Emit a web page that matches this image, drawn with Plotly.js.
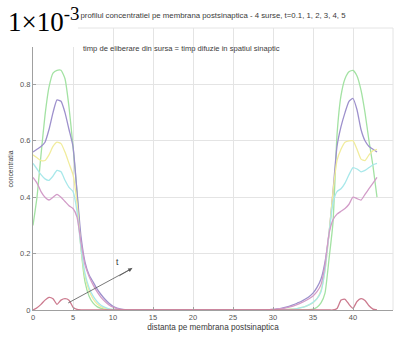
<!DOCTYPE html>
<html>
<head>
<meta charset="utf-8">
<script src="https://cdn.plot.ly/plotly-3.0.1.min.js"></script>
<style>html,body{margin:0;padding:0;background:#fff;}#chart{width:397px;height:338px;}</style>
</head>
<body>
<div id="chart"></div>
<script>
// distance along the postsynaptic membrane
const distanta = [0,0.5,1,1.5,2,2.5,3,3.5,4,4.5,5,5.5,6,6.5,7,7.5,8,8.5,9,9.5,10,10.5,11,11.5,12,
  13,14,15,16,17,18,19,20,21,22,23,24,25,26,27,28,29,
  30,30.5,31,31.5,32,32.5,33,33.5,34,34.5,35,35.5,36,36.5,37,37.5,38,38.5,39,39.5,40,40.5,41,41.5,42,42.5,43];

// concentration profiles (scaled by 1e-3)
const conc_t01 = [0,0.008,0.02,0.035,0.045,0.04,0.02,0.035,0.04,0.035,0.01,0.002,0,0,0,0,0,0,0,0,0,0,0,0,0,
  0,0,0,0,0,0,0,0,0,0,0,0,0,0,0,0,0,
  0,0,0,0,0,0,0,0,0,0,0,0,0,0,0,0,0.005,0.035,0.038,0.02,0.006,0.03,0.04,0.034,0.015,0.003,0];
const conc_t1 = [0.30,0.40,0.55,0.69,0.79,0.84,0.85,0.85,0.82,0.72,0.58,0.42,0.22,0.10,0.05,0.025,0.012,0.006,0.003,0.001,0,0,0,0,0,
  0,0,0,0,0,0,0,0,0,0,0,0,0,0,0,0,0,
  0,0,0,0,0,0,0,0,0,0.001,0.003,0.01,0.025,0.06,0.18,0.31,0.62,0.76,0.82,0.845,0.85,0.83,0.78,0.70,0.60,0.51,0.40];
const conc_t2 = [0.56,0.57,0.58,0.595,0.64,0.70,0.745,0.74,0.70,0.64,0.58,0.42,0.26,0.17,0.125,0.10,0.075,0.055,0.038,0.024,0.013,0.007,0.003,0.001,0,
  0,0,0,0,0,0,0,0,0,0,0,0,0,0,0,0,0,
  0.002,0.004,0.006,0.009,0.013,0.018,0.024,0.03,0.038,0.047,0.06,0.08,0.11,0.17,0.27,0.42,0.58,0.65,0.70,0.74,0.75,0.71,0.64,0.60,0.58,0.57,0.56];
const conc_t3 = [0.55,0.54,0.53,0.53,0.55,0.58,0.595,0.59,0.56,0.52,0.48,0.38,0.22,0.12,0.07,0.04,0.022,0.012,0.006,0.003,0.001,0,0,0,0,
  0,0,0,0,0,0,0,0,0,0,0,0,0,0,0,0,0,
  0,0,0.001,0.002,0.003,0.004,0.005,0.008,0.012,0.018,0.026,0.04,0.07,0.14,0.27,0.42,0.53,0.57,0.595,0.60,0.60,0.57,0.535,0.53,0.55,0.565,0.57];
const conc_t4 = [0.52,0.50,0.48,0.465,0.46,0.475,0.495,0.49,0.46,0.435,0.42,0.35,0.22,0.13,0.08,0.05,0.03,0.017,0.009,0.004,0.002,0.001,0,0,0,
  0,0,0,0,0,0,0,0,0,0,0,0,0,0,0,0,0,
  0,0,0.001,0.001,0.002,0.003,0.005,0.008,0.012,0.018,0.027,0.04,0.065,0.14,0.27,0.38,0.42,0.43,0.45,0.48,0.505,0.50,0.49,0.495,0.505,0.515,0.52];
const conc_t5 = [0.47,0.45,0.42,0.40,0.39,0.40,0.41,0.40,0.385,0.37,0.36,0.33,0.24,0.16,0.12,0.09,0.065,0.045,0.03,0.018,0.01,0.005,0.002,0.001,0,
  0,0,0,0,0,0,0,0,0,0,0,0,0,0,0,0,0,
  0.002,0.003,0.005,0.007,0.01,0.014,0.019,0.025,0.032,0.04,0.05,0.065,0.09,0.16,0.27,0.32,0.34,0.35,0.36,0.375,0.40,0.395,0.39,0.41,0.43,0.45,0.47];

const seriesNames = ['t=1','t=2','t=3','t=4','t=5','t=0.1'];
const seriesData = [conc_t1, conc_t2, conc_t3, conc_t4, conc_t5, conc_t01];
const seriesColors = ['#a3e2a3','#9d90cc','#f1ec9c','#a8e8ea','#d29cc8','#cc7a8e'];

const xTicks = [0,5,10,15,20,25,30,35,40,45];
const yTicks = [0,0.2,0.4,0.6,0.8];
const yTickText = ['0','0.2','0.4','0.6','0.8'];

const traces = seriesData.map((y, i) => ({
  x: distanta, y: y, type: 'scatter', mode: 'lines', name: seriesNames[i],
  line: {color: seriesColors[i], width: 1.3, shape: 'spline', smoothing: 0.5},
  hoverinfo: 'skip'
}));

const font = 'Liberation Sans, Arial, sans-serif';
const layout = {
  width: 397, height: 338,
  margin: {l: 33, r: 4, t: 28, b: 28},
  paper_bgcolor: '#fff', plot_bgcolor: '#fff',
  showlegend: false,
  font: {family: font, color: '#444', size: 7},
  title: {
    text: 'profilul concentratiei pe membrana postsinaptica - 4 surse, t=0.1, 1, 2, 3, 4, 5',
    font: {family: font, size: 7.8, color: '#3a3a3a'},
    xref: 'paper', x: 0.5, xanchor: 'center',
    yref: 'container', y: 1 - 15/338, yanchor: 'middle'
  },
  xaxis: {
    range: [0, 45], tickvals: xTicks, ticktext: xTicks.map(String),
    showgrid: true, gridcolor: '#e4e4e4', gridwidth: 1,
    zeroline: false, showline: true, linecolor: '#a0a0a0', linewidth: 1,
    ticks: 'inside', ticklen: 3, tickcolor: '#a0a0a0',
    tickfont: {family: font, size: 7.5, color: '#555'},
    title: {text: 'distanta pe membrana postsinaptica', font: {family: font, size: 8.2, color: '#3a3a3a'}, standoff: 3}
  },
  yaxis: {
    range: [0, 1], tickvals: yTicks, ticktext: yTickText,
    showgrid: true, gridcolor: '#e4e4e4', gridwidth: 1,
    zeroline: false, showline: true, linecolor: '#a0a0a0', linewidth: 1,
    ticks: 'inside', ticklen: 3, tickcolor: '#a0a0a0',
    tickfont: {family: font, size: 7.5, color: '#555'},
    title: {text: 'concentratia', font: {family: font, size: 6.8, color: '#3a3a3a'}, standoff: 5}
  },
  shapes: [
    {type: 'line', xref: 'paper', yref: 'paper', x0: 0, x1: 1, y0: 1, y1: 1, line: {color: '#e4e4e4', width: 1}},
    {type: 'line', xref: 'paper', yref: 'paper', x0: 1, x1: 1, y0: 0, y1: 1, line: {color: '#e4e4e4', width: 1}},
    {type: 'rect', xref: 'paper', yref: 'paper', x0: -0.01, x1: (78-33)/360, y0: (310-47)/282, y1: 1.01,
     fillcolor: '#fff', line: {width: 0}, layer: 'above'},
    {type: 'line', xref: 'x', yref: 'y', x0: 4.4, y0: 0.025, x1: 12.4, y1: 0.148,
     line: {color: '#555', width: 0.8}}
  ],
  annotations: [
    {text: '1×10<sup>-3</sup>', xref: 'paper', yref: 'paper', x: (6-33)/360, xanchor: 'left',
     y: (310-1)/282, yanchor: 'top', showarrow: false,
     font: {family: 'Liberation Serif, Times New Roman, serif', size: 27, color: '#000'}},
    {text: 'timp de eliberare din sursa = timp difuzie in spatiul sinaptic', xref: 'x', yref: 'y',
     x: 6.0, y: 0.927, xanchor: 'left', yanchor: 'middle', showarrow: false,
     font: {family: font, size: 7.6, color: '#3a3a3a'}},
    {text: ' ', xref: 'x', yref: 'y', x: 12.4, y: 0.148, axref: 'x', ayref: 'y', ax: 10.6, ay: 0.118,
     showarrow: true, arrowhead: 2, arrowsize: 1, arrowwidth: 0.8, arrowcolor: '#555', standoff: 0,
     font: {family: font, size: 1, color: '#fff'}},
    {text: 't', xref: 'x', yref: 'y', x: 10.5, y: 0.172, showarrow: false,
     font: {family: font, size: 8.5, color: '#333'}}
  ]
};

Plotly.newPlot('chart', traces, layout, {staticPlot: true, displayModeBar: false});
</script>
</body>
</html>
